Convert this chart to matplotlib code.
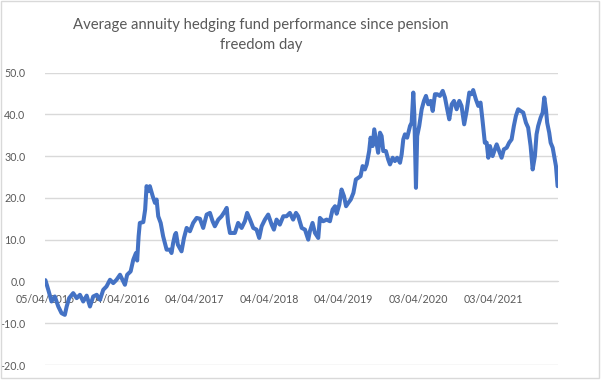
import matplotlib
matplotlib.use("Agg")
import matplotlib.pyplot as plt
import matplotlib.patches as mpatches
import pandas as pd

plt.rcParams['font.family'] = ['Lato', 'DejaVu Sans']

title = "Average annuity hedging fund performance since pension\nfreedom day"
start_date = "2015-04-05"
tick_labels = ["05/04/2015", "04/04/2016", "04/04/2017", "04/04/2018",
               "04/04/2019", "03/04/2020", "03/04/2021"]
tick_dates = ["2015-04-05", "2016-04-04", "2017-04-04", "2018-04-04",
              "2019-04-04", "2020-04-03", "2021-04-03"]
y_ticks = [-20, -10, 0, 10, 20, 30, 40, 50]

# days since pension freedom day, and fund performance (%)
days = [0, 14, 30, 46, 63, 79, 95, 104, 116, 136, 153, 169, 185, 202, 218, 234,
        251, 267, 283, 299, 316, 332, 348, 365, 381, 389, 400, 417, 430, 443,
        449, 456, 462, 479, 488, 495, 503, 511, 525, 536, 544, 552, 564, 576,
        593, 609, 617, 625, 634, 639, 648, 666, 678, 691, 707, 723, 740, 756,
        772, 789, 805, 818, 829, 846, 862, 878, 887, 894, 903, 927, 943, 960,
        976, 987, 1001, 1017, 1033, 1046, 1058, 1074, 1090, 1107, 1118, 1131,
        1147, 1164, 1180, 1196, 1212, 1226, 1237, 1254, 1270, 1286, 1294, 1307,
        1319, 1335, 1343, 1359, 1376, 1392, 1405, 1417, 1425, 1438, 1449, 1461,
        1471, 1482, 1494, 1507, 1519, 1531, 1542, 1552, 1563, 1572, 1584, 1591,
        1601, 1609, 1621, 1628, 1637, 1645, 1653, 1666, 1677, 1686, 1699, 1710,
        1721, 1735, 1743, 1751, 1759, 1770, 1784, 1792, 1800, 1805, 1813, 1819,
        1829, 1841, 1852, 1862, 1873, 1885, 1895, 1906, 1917, 1930, 1944, 1955,
        1966, 1976, 1988, 1999, 2012, 2025, 2036, 2049, 2061, 2074, 2085, 2093,
        2106, 2118, 2129, 2139, 2150, 2159, 2167, 2175, 2188, 2199, 2208, 2220,
        2232, 2243, 2257, 2269, 2281, 2292, 2302, 2313, 2325, 2338, 2351, 2362,
        2374, 2384, 2395, 2403, 2411, 2423, 2433, 2441, 2449, 2455, 2465, 2472,
        2482, 2488, 2498, 2506]
performance = [0.3, -2.0, -4.8, -3.6, -6.0, -7.6, -8.0, -6.0, -4.0, -2.8, -4.0,
               -3.2, -4.8, -3.4, -6.0, -3.6, -3.2, -4.4, -2.0, -1.2, 0.4, -0.4,
               0.4, 1.6, 0.0, -0.8, 1.6, 2.4, 5.2, 6.8, 5.0, 10.8, 14.0, 14.2,
               17.2, 22.8, 21.6, 22.8, 20.4, 18.8, 19.6, 15.6, 14.0, 10.8, 7.6,
               7.6, 6.8, 9.2, 11.2, 11.6, 8.8, 7.2, 10.4, 12.8, 12.0, 14.0, 15.2,
               15.0, 12.8, 16.0, 16.4, 14.4, 13.2, 14.8, 15.6, 16.8, 17.6, 14.0,
               11.6, 11.6, 14.0, 12.8, 14.4, 16.4, 14.8, 12.8, 12.4, 10.4, 13.2,
               14.8, 16.0, 13.6, 12.4, 14.8, 13.6, 15.6, 15.6, 16.4, 14.8, 16.4,
               15.6, 12.8, 12.4, 10.0, 12.0, 14.0, 11.6, 10.4, 15.2, 14.4, 14.8,
               14.4, 17.2, 18.0, 16.2, 18.4, 22.0, 20.4, 18.0, 18.8, 19.6, 21.2,
               24.4, 24.8, 25.2, 27.6, 26.8, 28.0, 31.2, 34.4, 32.4, 36.4, 32.8,
               30.8, 35.6, 34.8, 31.2, 31.2, 29.2, 28.0, 29.6, 28.8, 29.6, 28.4,
               30.4, 34.0, 35.2, 34.4, 37.2, 38.0, 45.2, 40.0, 22.4, 34.8, 37.2,
               41.2, 43.2, 44.4, 42.4, 43.2, 40.8, 44.8, 44.8, 44.4, 45.6, 44.0,
               41.2, 38.8, 42.4, 43.2, 41.2, 43.2, 42.0, 37.6, 40.8, 45.2, 44.8,
               45.8, 43.6, 42.0, 42.8, 38.4, 33.2, 33.2, 29.6, 32.4, 30.0, 31.6,
               32.8, 31.2, 29.6, 31.6, 32.0, 33.2, 34.0, 37.2, 39.6, 41.2, 40.8,
               40.4, 38.0, 36.8, 32.4, 26.8, 30.0, 35.2, 37.2, 39.2, 40.4, 44.0,
               41.2, 38.0, 35.6, 33.2, 32.0, 30.4, 27.6, 22.8]

dates = pd.Timestamp(start_date) + pd.to_timedelta(days, unit="D")
tdates = pd.to_datetime(tick_dates)

fig = plt.figure(figsize=(6.03, 3.81), dpi=100)
ax = fig.add_axes([45 / 603, 16 / 381, 513 / 603, 292.5 / 381])

grid_c = "#d9d9d9"
text_c = "#595959"

ax.plot(dates, performance, color="#4472C4", lw=2.9, solid_joinstyle="round",
        solid_capstyle="round", zorder=3)

ax.set_ylim(-20, 50)
ax.set_xlim(dates[0] - pd.Timedelta(days=2), dates[-1] + pd.Timedelta(days=2))
ax.set_yticks(y_ticks)
ax.set_yticklabels([f"{v:.1f}" for v in y_ticks])
ax.set_xticks(tdates)
ax.set_xticklabels(tick_labels)

ax.set_axisbelow(True)
ax.grid(axis="y", color=grid_c, lw=1.0)
for s in ["top", "right", "left"]:
    ax.spines[s].set_visible(False)
ax.spines["bottom"].set_position(("data", 0))
ax.spines["bottom"].set_color(grid_c)
ax.spines["bottom"].set_zorder(0.5)
ax.tick_params(axis="both", length=0, colors=text_c, labelsize=7.7)
ax.tick_params(axis="y", pad=14)
ax.tick_params(axis="x", pad=9)

fig.text(261 / 603, 1 - 35 / 381, title, ha="center", va="center",
         fontsize=10.7, color=text_c, linespacing=1.55)

border = mpatches.Rectangle((0.5 / 603, 3 / 381), 598 / 603, 377 / 381,
                            transform=fig.transFigure, fill=False,
                            edgecolor=grid_c, lw=1.0)
fig.patches.append(border)

fig.savefig("out.png", dpi=100)
